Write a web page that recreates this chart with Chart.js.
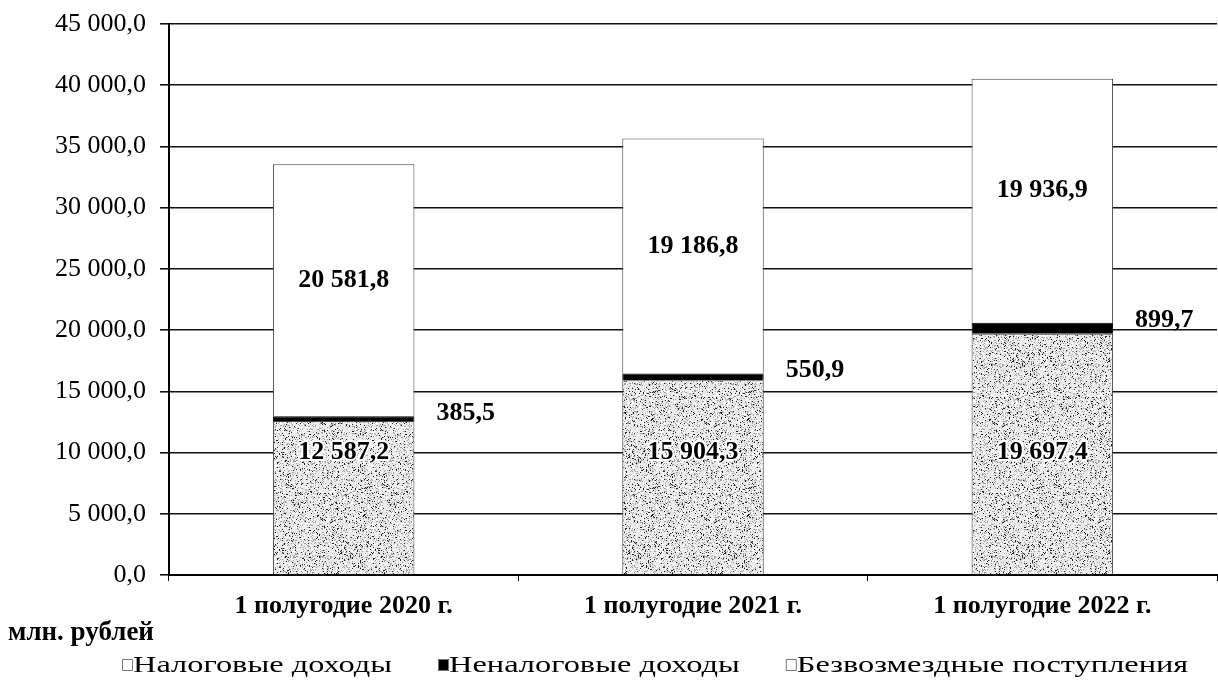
<!DOCTYPE html>
<html lang="ru">
<head>
<meta charset="utf-8">
<title>Доходы 1 полугодие</title>
<script src="https://cdn.jsdelivr.net/npm/chart.js@4.4.1/dist/chart.umd.min.js"></script>
<style>
  html, body { margin: 0; padding: 0; background: #fff; }
  #wrap { width: 1218px; height: 686px; }
</style>
</head>
<body>
<div id="wrap"><canvas id="chart" width="1218" height="686"></canvas></div>
<script>
'use strict';

// data
const categories = ['1 полугодие 2020 г.', '1 полугодие 2021 г.', '1 полугодие 2022 г.'];
const seriesNames = ['Налоговые доходы', 'Неналоговые доходы', 'Безвозмездные поступления'];
const taxIncome = [12587.2, 15904.3, 19697.4];
const nonTaxIncome = [385.5, 550.9, 899.7];
const grants = [20581.8, 19186.8, 19936.9];
const yTickLabels = ['0,0', '5 000,0', '10 000,0', '15 000,0', '20 000,0', '25 000,0', '30 000,0', '35 000,0', '40 000,0', '45 000,0'];
const yMax = 45000;
const yStep = 5000;
const unitLabel = 'млн. рублей';

const FONT = "'Liberation Serif', 'Times New Roman', serif";

// 12587.2 -> "12 587,2"
function fmt(v) {
  let parts = v.toFixed(1).split('.');
  parts[0] = parts[0].replace(/\B(?=(\d{3})+(?!\d))/g, ' ');
  return parts.join(',');
}

// speckled grey fill like the scanned original
function makeSpeckle() {
  const c = document.createElement('canvas');
  c.width = 96;
  c.height = 96;
  const g = c.getContext('2d');
  g.fillStyle = '#e8e8e8';
  g.fillRect(0, 0, 96, 96);
  for (let y = 0; y < 96; y++) {
    for (let x = 0; x < 96; x++) {
      let h = Math.sin(x * 12.9898 + y * 78.233) * 43758.5453;
      h = h - Math.floor(h);
      if (h < 0.07) {
        g.fillStyle = '#222';
        g.fillRect(x, y, 1, 1);
      } else if (h < 0.22) {
        g.fillStyle = '#a0a0a0';
        g.fillRect(x, y, 1, 1);
      } else if (h > 0.8) {
        g.fillStyle = '#fff';
        g.fillRect(x, y, 1, 1);
      }
    }
  }
  return document.getElementById('chart').getContext('2d').createPattern(c, 'repeat');
}

const speckle = makeSpeckle();

const labelsPlugin = {
  id: 'valueLabels',
  afterDatasetsDraw(chart) {
    const ctx = chart.ctx;
    const yScale = chart.scales.y;
    ctx.save();
    ctx.font = 'bold 26px ' + FONT;
    ctx.textBaseline = 'middle';

    // bottom segment: white halo text
    let m0 = chart.getDatasetMeta(0);
    m0.data.forEach((bar, i) => {
      ctx.textAlign = 'center';
      ctx.lineWidth = 4;
      ctx.strokeStyle = '#fff';
      ctx.lineJoin = 'round';
      let ly = yScale.getPixelForValue(10000);
      ctx.strokeText(fmt(taxIncome[i]), bar.x, ly);
      ctx.fillStyle = '#000';
      ctx.fillText(fmt(taxIncome[i]), bar.x, ly);
    });

    // thin black segment: label to the right of the bar
    let m1 = chart.getDatasetMeta(1);
    m1.data.forEach((bar, i) => {
      ctx.textAlign = 'left';
      ctx.fillStyle = '#000';
      ctx.fillText(fmt(nonTaxIncome[i]), bar.x + bar.width / 2 + 22, bar.y - 3);
    });

    // top segment
    let m2 = chart.getDatasetMeta(2);
    m2.data.forEach((bar, i) => {
      ctx.textAlign = 'center';
      ctx.fillStyle = '#000';
      ctx.fillText(fmt(grants[i]), bar.x, (bar.y + bar.base) / 2 - 10);
    });

    // unit caption under the y axis
    ctx.font = 'bold 27px ' + FONT;
    ctx.textAlign = 'left';
    ctx.fillText(unitLabel, 8, chart.chartArea.bottom + 58);

    // legend (the scan is wide, so the text is stretched a bit)
    ctx.font = '24px ' + FONT;
    const sx = 1.35;
    const fills = ['#fff', '#000', '#fff'];
    const gap = 46;
    let lx = 122;
    let ly = 665;
    seriesNames.forEach((n, i) => {
      ctx.fillStyle = fills[i];
      ctx.strokeStyle = '#777';
      ctx.lineWidth = 1;
      ctx.fillRect(lx, ly - 6, 11, 12);
      ctx.strokeRect(lx + 0.5, ly - 5.5, 10, 11);
      ctx.fillStyle = '#000';
      ctx.textAlign = 'left';
      ctx.save();
      ctx.translate(lx + 11, ly + 1);
      ctx.scale(sx, 1);
      ctx.fillText(n, 0, 0);
      ctx.restore();
      lx += 11 + ctx.measureText(n).width * sx + gap;
    });
    ctx.restore();
  },
};

const chartCanvas = document.getElementById('chart');

// eslint-disable-next-line no-new,no-undef
let objChart = new Chart(chartCanvas, {
  type: 'bar',
  data: {
    labels: categories,
    datasets: [
      {
        label: seriesNames[0],
        data: taxIncome,
        backgroundColor: speckle,
        borderColor: '#444',
        borderWidth: 1,
      },
      {
        label: seriesNames[1],
        data: nonTaxIncome,
        backgroundColor: '#000',
        borderColor: '#000',
        borderWidth: 1,
      },
      {
        label: seriesNames[2],
        data: grants,
        backgroundColor: '#fff',
        borderColor: '#444',
        borderWidth: 1,
      },
    ],
  },
  options: {
    responsive: false,
    animation: false,
    devicePixelRatio: 1,
    layout: {
      padding: { top: 24, right: 1, bottom: 0, left: 0 },
    },
    datasets: {
      bar: {
        barPercentage: 0.405,
        categoryPercentage: 1,
      },
    },
    plugins: {
      legend: { display: false },
      tooltip: { enabled: false },
    },
    scales: {
      x: {
        stacked: true,
        afterFit(scale) {
          scale.height = 111;
        },
        grid: {
          offset: true,
          drawOnChartArea: false,
          color: '#000',
          tickLength: 6,
          lineWidth: 1,
        },
        border: { color: '#000', width: 2 },
        ticks: {
          color: '#000',
          padding: 10,
          maxRotation: 0,
          font: { family: FONT, size: 26, weight: 'bold' },
        },
      },
      y: {
        stacked: true,
        min: 0,
        max: yMax,
        afterFit(scale) {
          scale.width = 169;
          scale.paddingTop = 0;
          scale.paddingBottom = 0;
        },
        grid: {
          color: '#111',
          lineWidth: 1.6,
          tickLength: 9,
        },
        border: { color: '#000', width: 2 },
        ticks: {
          stepSize: yStep,
          color: '#000',
          padding: 14,
          font: { family: FONT, size: 26 },
          callback(value, index) {
            return yTickLabels[index];
          },
        },
      },
    },
  },
  plugins: [labelsPlugin],
});
</script>
</body>
</html>
